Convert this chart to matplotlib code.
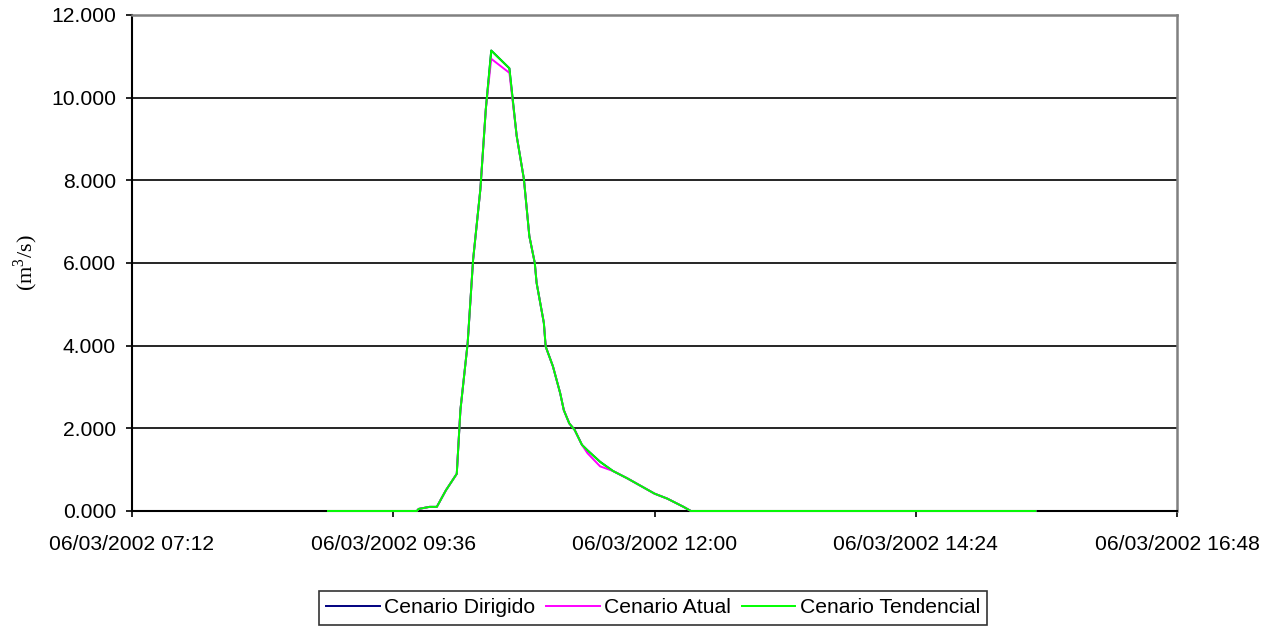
import pandas as pd
import matplotlib
matplotlib.use('Agg')
import matplotlib.pyplot as plt
import matplotlib.dates as mdates

# hydrograph values (m3/s), 06/03/2002
times = ['09:00', '09:49', '09:50', '09:56', '10:00', '10:05', '10:11', '10:13',
         '10:17', '10:20', '10:24', '10:27', '10:30', '10:40', '10:44', '10:48',
         '10:51', '10:54', '10:55', '10:59', '11:00', '11:04', '11:08', '11:10',
         '11:13', '11:16', '11:20', '11:23', '11:30', '11:37', '11:45', '12:00',
         '12:07', '12:16', '12:20', '15:30']

dirigido = [0, 0, 0.05, 0.1, 0.1, 0.5, 0.9, 2.44,
            4.06, 6.08, 7.78, 9.72, 11.14, 10.71, 9.08, 8.03,
            6.65, 6.0, 5.52, 4.55, 3.98, 3.5, 2.85, 2.44,
            2.12, 1.96, 1.6, 1.47, 1.19, 0.97, 0.79, 0.42,
            0.3, 0.1, 0, 0]

atual = [0, 0, 0.05, 0.1, 0.1, 0.5, 0.9, 2.44,
         4.06, 6.08, 7.78, 9.72, 10.94, 10.6, 9.08, 8.03,
         6.65, 6.0, 5.52, 4.55, 3.98, 3.5, 2.85, 2.44,
         2.12, 1.96, 1.6, 1.4, 1.08, 0.97, 0.79, 0.42,
         0.3, 0.1, 0, 0]

tendencial = [0, 0, 0.05, 0.1, 0.1, 0.5, 0.9, 2.44,
              4.06, 6.08, 7.78, 9.72, 11.14, 10.71, 9.08, 8.03,
              6.65, 6.0, 5.52, 4.55, 3.98, 3.5, 2.85, 2.44,
              2.12, 1.96, 1.6, 1.47, 1.19, 0.97, 0.79, 0.42,
              0.3, 0.1, 0, 0]

x = pd.to_datetime(['2002-03-06 ' + t for t in times])

plt.rcParams['font.family'] = ['Liberation Sans', 'DejaVu Sans']
plt.rcParams['mathtext.fontset'] = 'custom'
plt.rcParams['mathtext.rm'] = 'Liberation Serif'

fig = plt.figure(figsize=(12.78, 6.30), dpi=100)
ax = fig.add_axes([0.1033, 0.1889, 0.8177, 0.7873])

ax.plot(x, dirigido, color='#000080', lw=1.4, label='Cenario Dirigido', zorder=3, clip_on=False)
ax.plot(x, atual, color='#FF00FF', lw=1.4, label='Cenario Atual', zorder=3, clip_on=False)
ax.plot(x, tendencial, color='#00FF00', lw=1.4, label='Cenario Tendencial', zorder=3, clip_on=False)

start = pd.Timestamp('2002-03-06 07:12')
xticks = [start + pd.Timedelta(minutes=144 * i) for i in range(5)]
ax.set_xlim(xticks[0], xticks[-1])
ax.set_xticks(xticks)
ax.xaxis.set_major_formatter(mdates.DateFormatter('%d/%m/%Y %H:%M'))

ax.set_ylim(0, 12)
ax.set_yticks(range(0, 13, 2))
ax.set_yticklabels(['%.3f' % v for v in range(0, 13, 2)])
ax.yaxis.grid(True, color='black', lw=1.2)
ax.set_axisbelow(True)

ax.tick_params(labelsize=15.2, direction='out', length=4.5, width=1.2)
ax.tick_params(axis='x', pad=13)
ax.tick_params(axis='y', pad=7)
for side in ['left', 'bottom']:
    ax.spines[side].set_color('black')
    ax.spines[side].set_linewidth(1.5)
for side in ['top', 'right']:
    ax.spines[side].set_color('#808080')
    ax.spines[side].set_linewidth(1.8)

ax.set_ylabel(r'(m$^{3}$/s)', family='Liberation Serif', fontsize=16)
ax.yaxis.set_label_coords(-0.088, 0.5)

leg = fig.legend(loc='center', bbox_to_anchor=(0.511, 0.035), ncol=3,
                 fontsize=15.2, frameon=True, fancybox=False, handlelength=2.55,
                 handletextpad=0.2, columnspacing=0.5, borderpad=0.35,
                 borderaxespad=0)
leg.get_frame().set_edgecolor('black')
leg.get_frame().set_linewidth(1.2)

fig.savefig('out.png', dpi=100)
